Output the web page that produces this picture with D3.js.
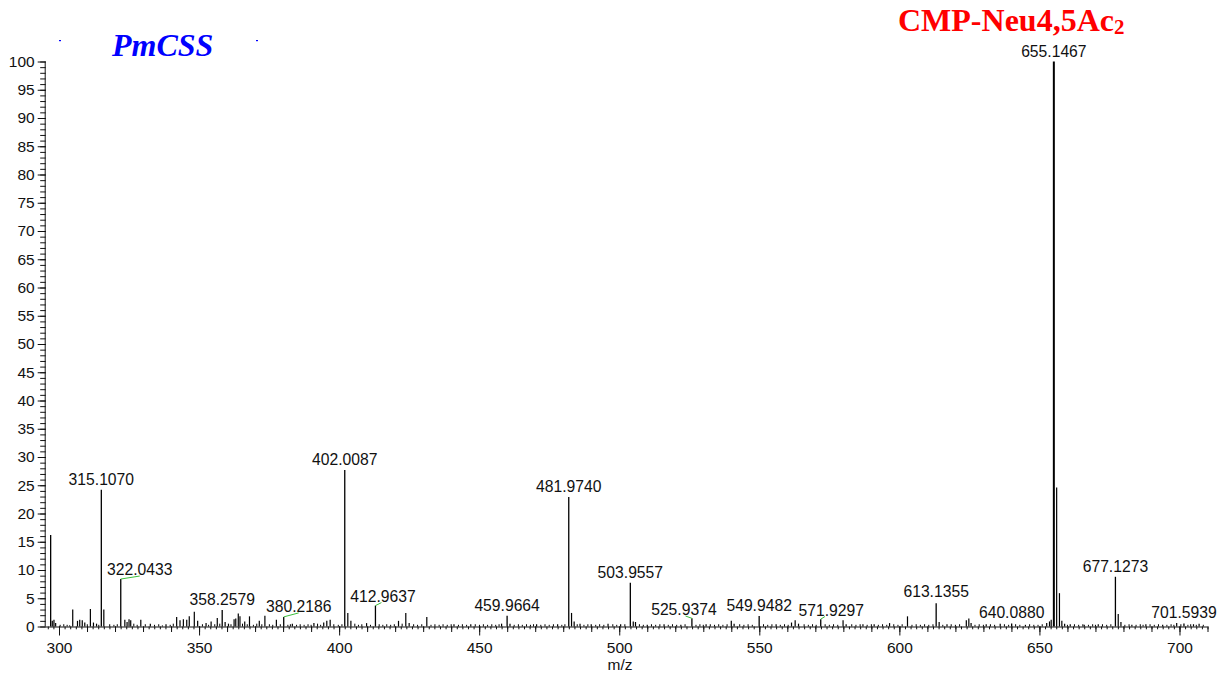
<!DOCTYPE html>
<html>
<head>
<meta charset="utf-8">
<script src="https://cdn.jsdelivr.net/npm/d3@7"></script>
<style>
  html, body { margin: 0; padding: 0; background: #fff; }
  svg { display: block; }
  .tick-label { font-family: "Liberation Sans", Arial, sans-serif; font-size: 15.5px; fill: #111; }
  .peak-label { font-family: "Liberation Sans", Arial, sans-serif; font-size: 15.7px; fill: #111; }
</style>
</head>
<body>
<svg id="chart" width="1221" height="675"></svg>
<script>
// Labelled peaks: m/z and relative abundance (%)
const labelledMz = [297.02, 315.1070, 322.0433, 358.2579, 380.2186, 402.0087, 412.9637, 459.9664,
  481.9740, 503.9557, 525.9374, 549.9482, 571.9297, 613.1355, 640.0880, 655.1467, 677.1273, 701.5939];
const labelledInt = [16.2, 24.2, 8.4, 2.9, 1.7, 27.7, 3.7, 1.9,
  22.9, 7.75, 1.45, 1.85, 1.3, 4.1, 0.55, 100, 8.8, 0.55];
const labelledText = ["", "315.1070", "322.0433", "358.2579", "380.2186", "402.0087", "412.9637", "459.9664",
  "481.9740", "503.9557", "525.9374", "549.9482", "571.9297", "613.1355", "640.0880", "655.1467", "677.1273", "701.5939"];

// Unlabelled isotope / fragment peaks
const minorMz = [297.6, 298.2, 298.8, 304.9, 306.6, 307.4, 308.3, 309.2, 311.2, 312.3, 313.4, 316.0,
  323.5, 324.3, 325.0, 325.6, 329.2, 332.6, 338.2, 342.0, 343.2, 344.4, 345.6, 346.5, 348.3, 349.5,
  352.5, 354.3, 356.5, 359.3, 360.5, 362.5, 363.1, 364.0, 364.6, 366.3, 368.0, 371.5, 373.5, 377.6,
  383.3, 391.0, 394.5, 395.6, 396.8, 403.1, 404.2, 409.8, 421.2, 423.8, 425.0, 431.3, 441.0, 447.0,
  458.0, 461.0, 470.5, 478.0, 482.97, 483.9, 486.0, 490.0, 496.0, 500.5, 505.0, 505.8, 510.0, 516.0,
  522.0, 531.0, 540.0, 541.0, 556.0, 561.5, 562.8, 564.0, 579.9, 581.0, 587.0, 591.0, 596.5, 602.9,
  614.2, 617.0, 623.9, 624.8, 625.6, 631.0, 636.0, 645.0, 652.6, 653.6, 654.2, 656.15, 657.15, 658.0,
  659.0, 661.0, 666.0, 671.0, 678.13, 679.1, 683.0, 688.0, 694.0, 699.0, 705.0, 707.0];
const minorInt = [1.0, 1.2, 0.6, 3.0, 1.0, 1.2, 1.1, 0.7, 3.1, 0.7, 0.5, 3.0,
  1.2, 0.8, 1.3, 1.1, 1.2, 0.5, 0.4, 1.7, 1.1, 1.3, 1.2, 1.8, 2.6, 1.0,
  0.6, 0.9, 1.5, 0.8, 0.5, 1.3, 1.4, 2.3, 1.8, 0.9, 1.8, 1.0, 1.9, 1.2,
  0.5, 0.6, 0.7, 1.0, 1.2, 2.4, 1.0, 0.6, 1.0, 2.4, 0.6, 1.7, 0.4, 0.4,
  0.5, 0.5, 0.4, 0.4, 2.4, 0.9, 0.5, 0.4, 0.5, 0.4, 0.9, 0.8, 0.3, 0.4,
  0.3, 0.4, 1.0, 0.5, 0.4, 0.7, 1.1, 0.5, 1.1, 0.4, 0.4, 0.4, 0.6, 1.8,
  0.8, 0.4, 1.1, 1.4, 0.6, 0.4, 0.5, 0.3, 0.6, 0.9, 1.2, 24.6, 5.9, 1.0,
  0.5, 0.4, 0.3, 0.4, 2.2, 0.8, 0.3, 0.4, 0.3, 0.6, 0.4, 0.5];

// Baseline noise spikes
const noiseMz = [300.4, 301.7, 302.9, 303.8, 310.1, 314.2, 318.1, 319.6, 320.8, 326.7, 327.9, 330.8,
  334.1, 335.6, 336.9, 339.7, 340.8, 351.2, 353.4, 355.6, 357.4, 361.4, 365.5, 367.2, 369.4, 370.6,
  372.4, 375.1, 376.3, 379.0, 381.7, 382.6, 384.8, 386.1, 387.5, 388.9, 390.0, 392.3, 393.4, 398.1,
  399.7, 401.0, 405.6, 406.9, 408.1, 411.2, 414.3, 415.6, 417.0, 418.4, 419.7, 422.5, 426.6, 428.0,
  429.5, 432.8, 434.2, 435.7, 437.1, 438.6, 440.0, 442.6, 444.0, 445.5, 448.6, 450.1, 451.5, 453.0,
  454.5, 455.9, 457.1, 462.5, 464.0, 465.4, 466.9, 468.3, 469.4, 472.0, 473.5, 475.0, 476.5, 479.5,
  480.6, 485.0, 487.4, 488.8, 491.6, 493.0, 494.5, 497.7, 499.1, 502.0, 507.2, 508.6, 511.5, 513.0,
  514.5, 517.5, 519.0, 520.5, 523.5, 527.4, 528.8, 530.0, 532.5, 534.0, 535.5, 537.0, 538.5, 543.0,
  544.5, 546.0, 547.5, 551.5, 553.0, 554.5, 557.5, 559.0, 560.3, 566.0, 567.5, 569.0, 570.3, 573.5,
  575.0, 576.5, 578.0, 583.0, 584.5, 586.0, 588.5, 590.0, 592.5, 594.0, 595.5, 598.0, 599.5, 601.0,
  604.5, 606.0, 607.5, 609.0, 610.5, 612.0, 615.5, 618.5, 620.0, 621.5, 627.0, 628.5, 630.0, 632.5,
  634.0, 637.5, 639.0, 641.5, 643.0, 646.5, 648.0, 649.5, 651.0, 660.0, 662.5, 664.0, 665.5, 667.5,
  669.0, 670.0, 672.5, 674.0, 675.5, 680.5, 682.0, 684.5, 686.0, 687.0, 689.5, 691.0, 692.5, 695.5,
  697.0, 698.0, 700.5, 703.0, 704.0, 706.0, 708.5];
const noiseInt = [0.3, 0.4, 0.3, 0.2, 0.4, 0.3, 0.4, 0.3, 0.4, 0.5, 0.3, 0.4,
  0.3, 0.4, 0.2, 0.3, 0.5, 0.4, 0.3, 0.4, 0.5, 0.4, 0.5, 0.4, 0.3, 0.5,
  0.4, 0.4, 0.3, 0.4, 0.3, 0.4, 0.3, 0.4, 0.3, 0.4, 0.3, 0.5, 0.3, 0.4,
  0.3, 0.4, 0.5, 0.3, 0.4, 0.3, 0.4, 0.3, 0.4, 0.3, 0.4, 0.5, 0.4, 0.3,
  0.4, 0.3, 0.4, 0.3, 0.4, 0.3, 0.4, 0.3, 0.4, 0.3, 0.4, 0.3, 0.4, 0.3,
  0.4, 0.3, 0.4, 0.3, 0.4, 0.3, 0.4, 0.3, 0.4, 0.3, 0.4, 0.3, 0.4, 0.3,
  0.4, 0.4, 0.3, 0.4, 0.3, 0.4, 0.3, 0.4, 0.3, 0.4, 0.4, 0.3, 0.4, 0.3,
  0.4, 0.3, 0.4, 0.3, 0.4, 0.3, 0.4, 0.3, 0.4, 0.3, 0.4, 0.3, 0.4, 0.4,
  0.3, 0.4, 0.3, 0.4, 0.3, 0.4, 0.3, 0.4, 0.3, 0.4, 0.3, 0.4, 0.3, 0.4,
  0.3, 0.4, 0.3, 0.4, 0.3, 0.4, 0.3, 0.4, 0.3, 0.4, 0.3, 0.4, 0.3, 0.4,
  0.3, 0.4, 0.3, 0.4, 0.3, 0.4, 0.3, 0.4, 0.3, 0.4, 0.3, 0.4, 0.3, 0.4,
  0.3, 0.4, 0.3, 0.4, 0.3, 0.4, 0.3, 0.3, 0.4, 0.3, 0.4, 0.3, 0.4, 0.3,
  0.4, 0.3, 0.4, 0.3, 0.4, 0.3, 0.4, 0.3, 0.4, 0.3, 0.4, 0.3, 0.4, 0.3,
  0.4, 0.3, 0.4, 0.3, 0.4, 0.3, 0.3];

const xMajorTicks = [300, 350, 400, 450, 500, 550, 600, 650, 700];
const yMajorTicks = [0, 5, 10, 15, 20, 25, 30, 35, 40, 45, 50, 55, 60, 65, 70, 75, 80, 85, 90, 95, 100];
const xTitle = "m/z";
const titleLeft = "PmCSS";
const titleRight = "CMP-Neu4,5Ac";
const titleRightSub = "2";

// Label placement for crowded peaks: horizontal shift, lift above peak, leader length fraction
const labelLayout = {
  "322.0433": { dx: 19, lift: 4, leader: 1.0 },
  "380.2186": { dx: 15, lift: 5, leader: 1.0 },
  "412.9637": { dx: 7.5, lift: 4, leader: 0.8 },
  "525.9374": { dx: -8, lift: 3.3, leader: 0.8 },
  "571.9297": { dx: 10.5, lift: 3.6, leader: 0.4 },
  "613.1355": { dx: 0, lift: 6, leader: 0 }
};

const svg = d3.select("#chart");
const x0 = 45.7, x1 = 1207.5, yTop = 61.5, yBase = 626.5;

const x = d3.scaleLinear().domain([295.25, 710]).range([x0, x1]);
const y = d3.scaleLinear().domain([0, 100]).range([yBase, yTop]);

// ---- axes ----
const gx = svg.append("g").attr("transform", `translate(0,${yBase})`);
gx.call(d3.axisBottom(x).tickValues(d3.range(296, 711, 2)).tickSize(2.8).tickFormat(""));
gx.call(g => g.select(".domain").remove());
const gx10 = svg.append("g").attr("transform", `translate(0,${yBase})`);
gx10.call(d3.axisBottom(x).tickValues(d3.range(300, 711, 10)).tickSize(5.5).tickFormat(""));
gx10.call(g => g.select(".domain").remove());
const gxMaj = svg.append("g").attr("transform", `translate(0,${yBase})`);
gxMaj.call(d3.axisBottom(x).tickValues(xMajorTicks).tickSize(9).tickPadding(6).tickFormat(d3.format("d")));
gxMaj.select(".domain").attr("d", `M${x0},0.5H${x1}`);
gxMaj.selectAll("text").attr("class", "tick-label").attr("font-size", null).attr("font-family", null);

const gy = svg.append("g").attr("transform", `translate(${x0},0)`);
gy.call(d3.axisLeft(y).tickValues(d3.range(0, 101, 1)).tickSize(5.5).tickFormat(""));
gy.call(g => g.select(".domain").remove());
const gyMaj = svg.append("g").attr("transform", `translate(${x0},0)`);
gyMaj.call(d3.axisLeft(y).tickValues(yMajorTicks).tickSize(8).tickPadding(3).tickFormat(d3.format("d")));
gyMaj.select(".domain").attr("d", `M-0.5,${yTop}V${yBase}`);
gyMaj.selectAll("text").attr("class", "tick-label").attr("font-size", null).attr("font-family", null);
svg.selectAll("g .tick line").attr("stroke", "#111");
svg.selectAll(".domain").attr("stroke", "#111");

svg.append("text").attr("class", "tick-label")
  .attr("x", x(500.3)).attr("y", 670).attr("text-anchor", "middle").text(xTitle);

// ---- spectrum sticks ----
const sticks = svg.append("g");
function drawSticks(mz, inten, width) {
  sticks.selectAll(null)
    .data(mz.map((m, i) => ({ m, v: inten[i] })))
    .enter().append("line")
    .attr("x1", d => x(d.m)).attr("x2", d => x(d.m))
    .attr("y1", yBase).attr("y2", d => y(d.v))
    .attr("stroke", "#000")
    .attr("stroke-width", d => d.v > 50 ? 2 : width);
}
drawSticks(noiseMz, noiseInt, 1);
drawSticks(minorMz, minorInt, 1.2);
drawSticks(labelledMz, labelledInt, 1.3);

// ---- peak annotations ----
const ann = svg.append("g");
labelledMz.forEach((m, i) => {
  const txt = labelledText[i];
  if (!txt) return;
  const px = x(m), py = y(labelledInt[i]);
  const lay = labelLayout[txt] || { dx: 0, lift: 5, leader: 0 };
  const lx = px + lay.dx, ly = py - lay.lift;
  if (lay.leader > 0) {
    ann.append("line")
      .attr("x1", px).attr("y1", py)
      .attr("x2", px + lay.dx * lay.leader).attr("y2", ly + 1)
      .attr("stroke", "#3cbf3c").attr("stroke-width", 1);
  }
  ann.append("text").attr("class", "peak-label")
    .attr("x", lx).attr("y", ly).attr("text-anchor", "middle").text(txt);
});

// ---- titles ----
svg.append("text")
  .attr("x", 112).attr("y", 56)
  .attr("font-family", "'Liberation Serif', 'Times New Roman', serif")
  .attr("font-size", 32).attr("font-weight", "bold").attr("font-style", "italic")
  .attr("fill", "#0000ff").text(titleLeft);
svg.append("rect").attr("x", 59).attr("y", 40).attr("width", 2).attr("height", 1.2).attr("fill", "#0000ff");
svg.append("rect").attr("x", 256).attr("y", 40).attr("width", 2).attr("height", 1.2).attr("fill", "#0000ff");

const tr = svg.append("text")
  .attr("x", 898).attr("y", 31)
  .attr("font-family", "'Liberation Serif', 'Times New Roman', serif")
  .attr("font-size", 32).attr("font-weight", "bold")
  .attr("fill", "#ff0000");
tr.append("tspan").text(titleRight);
tr.append("tspan").attr("font-size", 21).attr("dy", 3).text(titleRightSub);
</script>
</body>
</html>
